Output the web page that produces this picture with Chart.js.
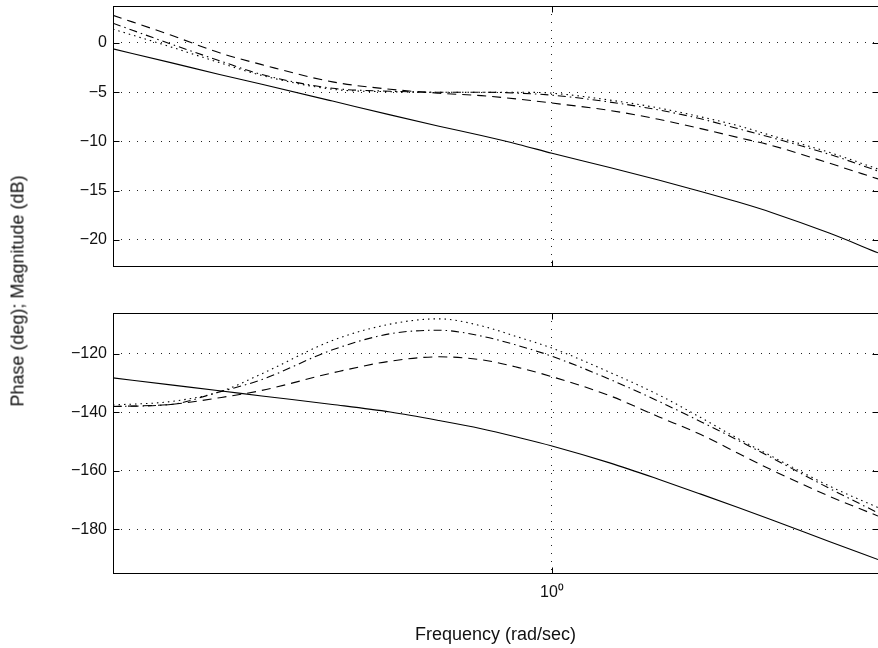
<!DOCTYPE html>
<html lang="en">
<head>
<meta charset="UTF-8">
<title>Bode plot</title>
<style>
  html, body { margin: 0; padding: 0; background: #fff; overflow: hidden; }
  body { width: 878px; height: 648px; position: relative; font-family: "Liberation Sans", Arial, sans-serif; }
  .box { position: absolute; left: 0; width: 890px; }
  #ylab {
    position: absolute; left: 18px; top: 291px;
    transform: translate(-50%, -50%) rotate(-90deg);
    white-space: nowrap; font-size: 18px; color: #111;
  }
</style>
<script src="https://cdn.jsdelivr.net/npm/chart.js"></script>
</head>
<body>

<div class="box" style="top:-18px;height:308px"><canvas id="magChart"></canvas></div>
<div class="box" style="top:289px;height:359px"><canvas id="phaseChart"></canvas></div>
<div id="ylab">Phase (deg); Magnitude (dB)</div>

<script>
// frequencies (rad/sec)
var freq = [0.25, 0.3, 0.35, 0.4, 0.5, 0.6, 0.7, 0.8, 0.9, 1.0, 1.2, 1.4, 1.6, 1.8, 2.0, 2.4, 2.8];

// magnitude (dB)
var magSolid   = [-0.6, -2.0, -3.2, -4.2, -5.9, -7.3, -8.45, -9.4, -10.3, -11.2, -12.65, -13.92, -15.07, -16.15, -17.2, -19.3, -21.3];
var magDashed  = [2.8, 0.8, -1.0, -2.2, -3.95, -4.7, -5.1, -5.35, -5.7, -6.1, -6.85, -7.75, -8.7, -9.6, -10.4, -12.2, -13.8];
var magDashDot = [2.0, -0.1, -1.8, -3.2, -4.6, -4.9, -5.0, -5.0, -5.1, -5.3, -6.0, -6.8, -7.7, -8.7, -9.6, -11.3, -13.0];
var magDotted  = [1.4, -0.4, -2.0, -3.3, -4.7, -4.95, -5.0, -5.0, -5.0, -5.1, -5.8, -6.6, -7.5, -8.4, -9.4, -11.1, -12.8];

// phase (deg)
var phSolid   = [-128.2, -130.6, -132.6, -134.4, -137.3, -139.9, -142.8, -145.6, -148.6, -151.5, -157.3, -162.9, -168.0, -172.6, -176.8, -184.2, -190.4];
var phDashed  = [-138, -137.3, -135, -132.5, -126.5, -122.5, -121, -122, -124.7, -127.8, -134.3, -141.5, -147.6, -154, -159.7, -168.7, -175.5];
var phDashDot = [-138, -137.3, -133, -128.8, -118.6, -113.1, -111.9, -113.9, -117.2, -120.8, -128.7, -136.2, -143.2, -149.6, -155.5, -166, -174.4];
var phDotted  = [-137.5, -136.3, -133, -126.8, -115.4, -109.8, -108, -110.4, -114.3, -118, -126.3, -134, -141.8, -149, -155, -165.2, -172.6];

// axis ticks
var magTicks = [0, -5, -10, -15, -20];
var phTicks = [-120, -140, -160, -180];
var freqTicks = [1];

function pts(ys) {
  return freq.map(function (f, i) { return { x: f, y: ys[i] }; });
}

function line(label, ys, dash) {
  return {
    label: label,
    data: pts(ys),
    borderColor: '#000',
    borderWidth: 1.1,
    borderDash: dash,
    pointRadius: 0,
    fill: false,
    cubicInterpolationMode: 'monotone'
  };
}

function minus(v) {
  return v < 0 ? '\u2212' + Math.abs(v) : String(v);
}

// frame round the plot area plus small inside tick marks
var framePlugin = {
  id: 'frame',
  afterDatasetsDraw: function (chart) {
    var a = chart.chartArea, ctx = chart.ctx;
    var l = Math.round(a.left) + 0.5, t = Math.round(a.top) + 0.5;
    var r = Math.round(a.right) + 0.5, b = Math.round(a.bottom) + 0.5;
    ctx.save();
    ctx.strokeStyle = '#000';
    ctx.lineWidth = 1;
    ctx.setLineDash([]);
    ctx.strokeRect(l, t, r - l, b - t);
    ctx.beginPath();
    chart.scales.y.ticks.forEach(function (tk) {
      var py = Math.round(chart.scales.y.getPixelForValue(tk.value)) + 0.5;
      ctx.moveTo(l, py); ctx.lineTo(l + 6, py);
      ctx.moveTo(r, py); ctx.lineTo(r - 6, py);
    });
    chart.scales.x.ticks.forEach(function (tk) {
      var px = Math.round(chart.scales.x.getPixelForValue(tk.value)) + 0.5;
      ctx.moveTo(px, t); ctx.lineTo(px, t + 6);
      ctx.moveTo(px, b); ctx.lineTo(px, b - 6);
    });
    ctx.stroke();
    ctx.restore();
  }
};

var gridStyle = { color: '#222', lineWidth: 1, drawTicks: false };
var borderStyle = { display: false, dash: [1, 7] };
var tickFont = { family: '"Liberation Sans", Arial, sans-serif', size: 16 };
var titleFont = { family: '"Liberation Sans", Arial, sans-serif', size: 18 };

function makeChart(id, sets, yMin, yMax, yTicks, padTop, xHeight, showX) {
  var ctx = document.getElementById(id).getContext('2d');
  return new Chart(ctx, {
    type: 'line',
    data: { datasets: sets },
    plugins: [framePlugin],
    options: {
      responsive: true,
      maintainAspectRatio: false,
      animation: false,
      layout: { padding: { top: padTop, right: 12, left: 0, bottom: 0 } },
      plugins: { legend: { display: false }, tooltip: { enabled: false } },
      scales: {
        x: {
          type: 'logarithmic',
          min: 0.25,
          max: 2.8,
          grid: gridStyle,
          border: borderStyle,
          afterBuildTicks: function (s) { s.ticks = freqTicks.map(function (v) { return { value: v }; }); },
          afterFit: function (s) { s.height = xHeight; },
          ticks: {
            display: showX,
            padding: 10,
            color: '#111',
            font: tickFont,
            maxRotation: 0,
            autoSkip: false,
            callback: function (v) { return v === 1 ? '10\u2070' : ''; }
          },
          title: {
            display: showX,
            text: 'Frequency (rad/sec)',
            color: '#111',
            font: titleFont,
            padding: { top: 4, bottom: 2 }
          }
        },
        y: {
          min: yMin,
          max: yMax,
          grid: gridStyle,
          border: borderStyle,
          afterBuildTicks: function (s) { s.ticks = yTicks.map(function (v) { return { value: v }; }); },
          afterFit: function (s) { s.width = 113; },
          ticks: {
            padding: 6,
            color: '#111',
            font: tickFont,
            callback: function (v) { return minus(v); }
          }
        }
      }
    }
  });
}

makeChart('magChart', [
  line('solid', magSolid, []),
  line('dashed', magDashed, [9, 6]),
  line('dash-dot', magDashDot, [8, 4, 1.5, 4]),
  line('dotted', magDotted, [1.5, 4])
], -22.64, 3.75, magTicks, 24, 24, false);

makeChart('phaseChart', [
  line('solid', phSolid, []),
  line('dashed', phDashed, [9, 6]),
  line('dash-dot', phDashDot, [8, 4, 1.5, 4]),
  line('dotted', phDotted, [1.5, 4])
], -195, -106, phTicks, 24, 75, true);
</script>
</body>
</html>
